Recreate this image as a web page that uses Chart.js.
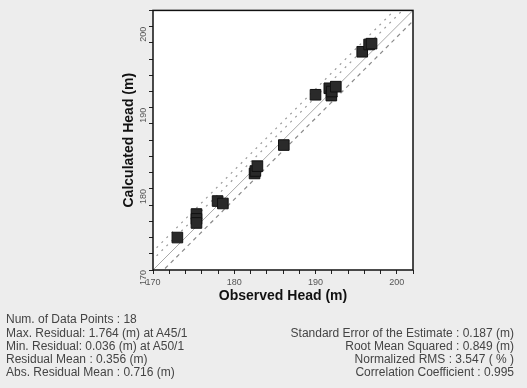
<!DOCTYPE html>
<html>
<head>
<meta charset="utf-8">
<script src="https://cdn.jsdelivr.net/npm/chart.js@4/dist/chart.umd.min.js"></script>
<style>
  body { margin: 0; background: #ededed; font-family: "Liberation Sans", Arial, sans-serif; }
  #wrap { position: relative; width: 527px; height: 388px; }
  canvas { position: absolute; left: 0; top: 0; }
  .st { position: absolute; font-size: 12px; color: #444; line-height: 13px; white-space: nowrap; }
  .l { left: 6px; }
  .r { right: 13px; text-align: right; }
</style>
</head>
<body>
<div id="wrap">
  <canvas id="calib" width="527" height="388"></canvas>
  <div class="st l" style="top:313px">Num. of Data Points : 18</div>
  <div class="st l" style="top:327px">Max. Residual: 1.764 (m) at A45/1</div>
  <div class="st l" style="top:340px">Min. Residual: 0.036 (m) at A50/1</div>
  <div class="st l" style="top:353px">Residual Mean : 0.356 (m)</div>
  <div class="st l" style="top:366px">Abs. Residual Mean : 0.716 (m)</div>
  <div class="st r" style="top:327px">Standard Error of the Estimate : 0.187 (m)</div>
  <div class="st r" style="top:340px">Root Mean Squared : 0.849 (m)</div>
  <div class="st r" style="top:353px">Normalized RMS : 3.547 ( % )</div>
  <div class="st r" style="top:366px">Correlation Coefficient : 0.995</div>
</div>
<script>
//? observed vs calculated heads (m)
const observed = [173.0, 175.35, 175.35, 175.35, 177.95, 178.6, 182.5, 182.6, 182.85, 186.1, 190.0, 191.7, 191.95, 192.0, 192.5, 195.75, 196.6, 196.9]
const calculated = [174.0, 176.9, 176.3, 175.8, 178.5, 178.2, 181.9, 182.2, 182.8, 185.4, 191.6, 192.4, 191.5, 192.0, 192.6, 196.9, 197.8, 197.9]

//? reference lines: offset from 1:1 line
const lineEnds = [168, 204]
const upperOuter = 2.3
const upperInner = 1.3
const lowerOff = -1.3

const axisMin = 170
const axisMax = 202
const labelTicks = [170, 180, 190, 200]

function offsetLine(off) {
  return lineEnds.map((x) => ({ x: x, y: x + off }))
}

const points = observed.map((o, i) => ({ x: o, y: calculated[i] }))

// white plot area + black frame
const frame = {
  id: 'frame',
  beforeDatasetsDraw(chart) {
    const a = chart.chartArea
    const ctx = chart.ctx
    ctx.save()
    ctx.fillStyle = '#ffffff'
    ctx.fillRect(a.left, a.top, a.right - a.left, a.bottom - a.top)
    ctx.restore()
  },
  afterDraw(chart) {
    const a = chart.chartArea
    const ctx = chart.ctx
    ctx.save()
    ctx.strokeStyle = '#111'
    ctx.lineWidth = 1.5
    ctx.strokeRect(a.left, a.top, a.right - a.left, a.bottom - a.top)
    ctx.restore()
  }
}

const tickCb = (v) => labelTicks.includes(v) ? String(v) : ''

const ctx = document.getElementById('calib').getContext('2d')
const chart = new Chart(ctx, {
  type: 'scatter',
  data: {
    datasets: [
      //* squares first so they sit on top of the lines
      {
        data: points, pointStyle: 'rect', pointRadius: 7.5, backgroundColor: '#2a2a2a',
        borderColor: '#111', borderWidth: 1
      },
      {
        type: 'line', data: offsetLine(upperOuter), borderColor: '#9a9a9a', borderWidth: 1.2,
        borderDash: [2, 5], pointRadius: 0, fill: false
      },
      {
        type: 'line', data: offsetLine(upperInner), borderColor: '#9a9a9a', borderWidth: 1.2,
        borderDash: [2, 5], pointRadius: 0, fill: false
      },
      {
        type: 'line', data: offsetLine(0), borderColor: '#a8a8a8', borderWidth: 1,
        pointRadius: 0, fill: false
      },
      {
        type: 'line', data: offsetLine(lowerOff), borderColor: '#8a8a8a', borderWidth: 1.2,
        borderDash: [4, 4], pointRadius: 0, fill: false
      }
    ]
  },
  options: {
    responsive: false,
    animation: false,
    layout: { padding: { left: 121, right: 114, top: 8, bottom: 83 } },
    plugins: { legend: { display: false }, tooltip: { enabled: false } },
    scales: {
      x: {
        type: 'linear', min: axisMin, max: axisMax,
        afterFit(s) { s.height = 35 },
        ticks: { stepSize: 2, callback: tickCb, autoSkip: false, maxRotation: 0, font: { size: 9 }, color: '#555', padding: 3 },
        grid: { drawOnChartArea: false, tickLength: 4, color: '#222' },
        border: { display: false },
        title: { display: true, text: 'Observed Head (m)', font: { size: 14, weight: 'bold' }, color: '#111', padding: 0 }
      },
      y: {
        type: 'linear', min: axisMin, max: axisMax,
        afterFit(s) { s.width = 32 },
        ticks: { stepSize: 2, callback: tickCb, autoSkip: false, minRotation: 90, maxRotation: 90, font: { size: 9 }, color: '#555', padding: 5 },
        grid: { drawOnChartArea: false, tickLength: 4, color: '#222' },
        border: { display: false },
        title: { display: true, text: 'Calculated Head (m)', font: { size: 14, weight: 'bold' }, color: '#111', padding: 0 }
      }
    }
  },
  plugins: [frame]
})
</script>
</body>
</html>
